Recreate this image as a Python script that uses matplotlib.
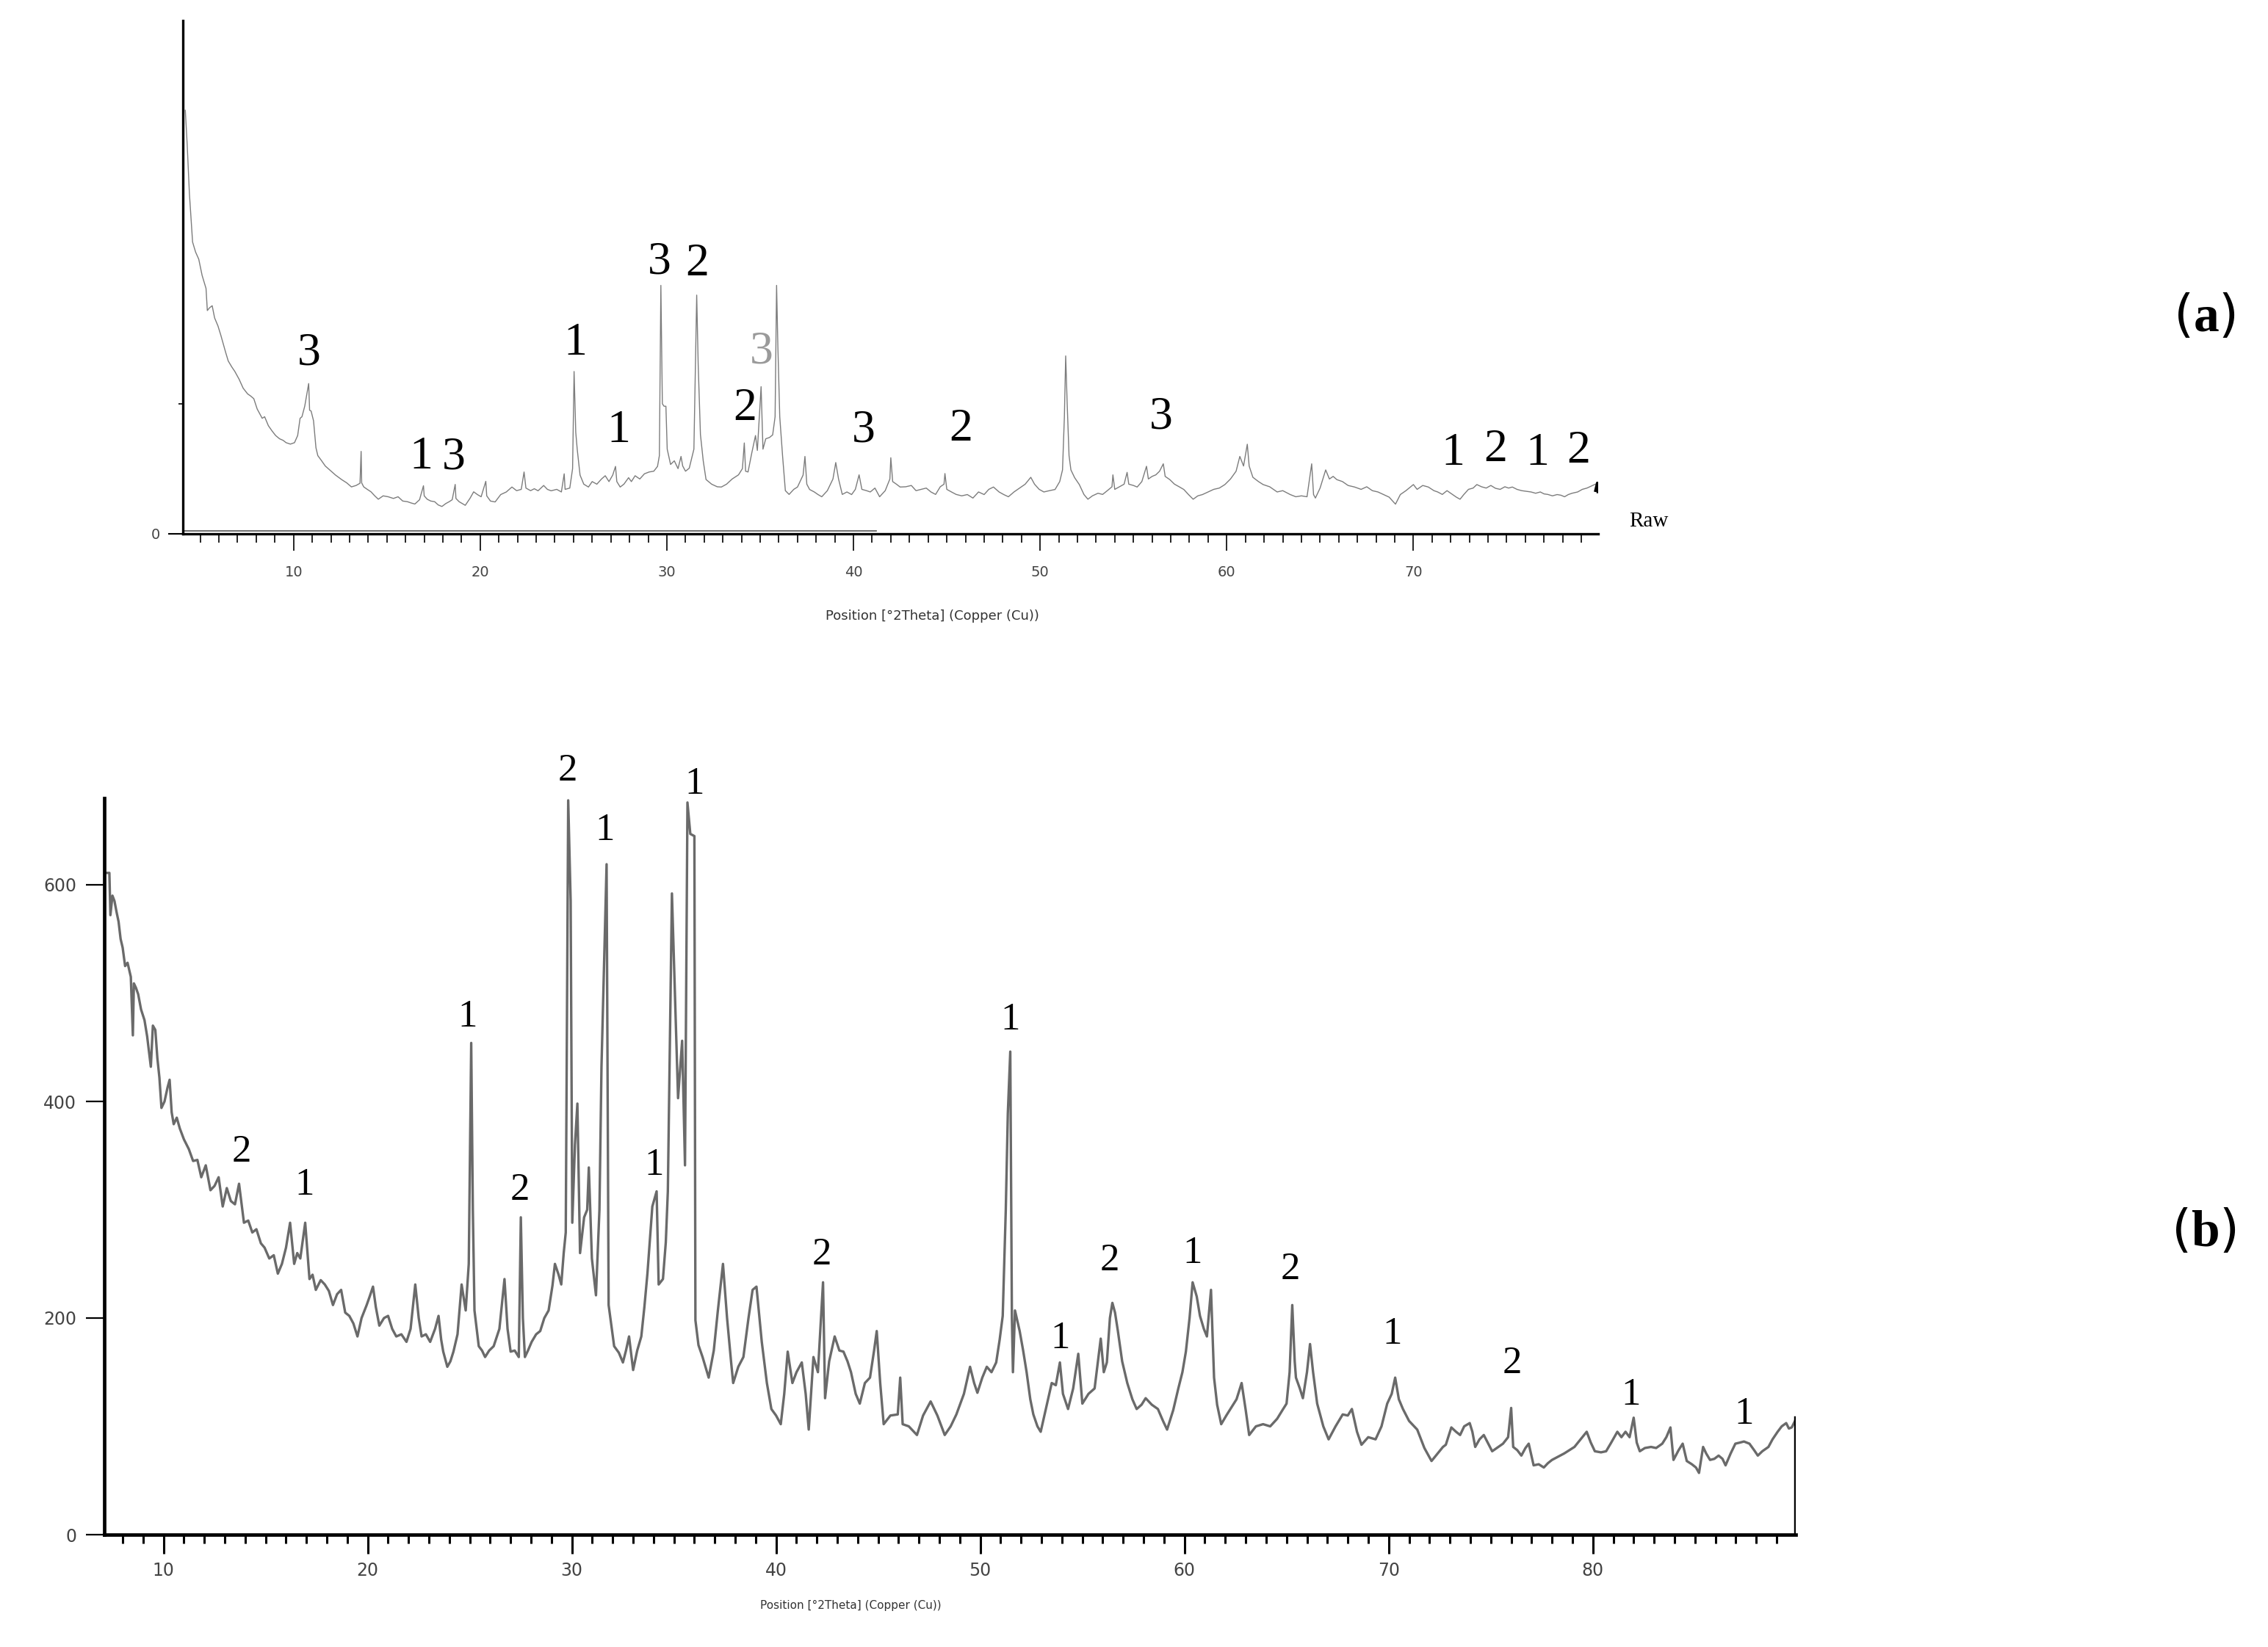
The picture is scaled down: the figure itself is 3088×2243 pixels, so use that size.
import matplotlib
matplotlib.use("Agg")
import matplotlib.pyplot as plt
from matplotlib.ticker import MultipleLocator, NullFormatter

plt.rcParams["mathtext.fontset"] = "custom"
plt.rcParams["mathtext.rm"] = "Liberation Serif"
plt.rcParams["mathtext.bf"] = "Liberation Serif:bold"

# ---- panel (a): raw pattern, 2theta vs counts ----
a_x = [4.20, 4.30, 4.42, 4.59, 4.75, 4.92, 5.10, 5.31, 5.36, 5.38, 5.50, 5.64, 5.77, 5.95, 6.10,
       6.36, 6.50, 6.69, 6.85, 7.08, 7.30, 7.54, 7.70, 7.87, 8.05, 8.32, 8.45, 8.65, 8.85, 9.04,
       9.25, 9.44, 9.60, 9.83, 10.05, 10.22, 10.35, 10.45, 10.60, 10.81, 10.86, 10.94, 11.07, 11.20,
       11.30, 11.47, 11.70, 11.93, 12.25, 12.58, 12.85, 13.10, 13.35, 13.56, 13.62, 13.65, 13.76,
       13.95, 14.15, 14.35, 14.54, 14.80, 15.07, 15.35, 15.60, 15.85, 16.10, 16.30, 16.50, 16.75,
       16.96, 17.00, 17.16, 17.35, 17.56, 17.75, 17.95, 18.15, 18.34, 18.50, 18.66, 18.70, 18.87,
       19.05, 19.20, 19.45, 19.65, 19.85, 20.05, 20.30, 20.35, 20.55, 20.80, 21.10, 21.40, 21.70,
       21.95, 22.20, 22.35, 22.45, 22.70, 22.90, 23.10, 23.40, 23.60, 23.80, 24.10, 24.35, 24.50,
       24.55, 24.80, 24.95, 25.03, 25.12, 25.20, 25.35, 25.55, 25.80, 26.00, 26.25, 26.50, 26.70,
       26.90, 27.10, 27.25, 27.32, 27.50, 27.70, 27.95, 28.10, 28.30, 28.55, 28.80, 29.05, 29.30,
       29.50, 29.60, 29.68, 29.76, 29.85, 29.95, 30.02, 30.20, 30.40, 30.60, 30.76, 30.85, 31.00,
       31.20, 31.45, 31.60, 31.68, 31.80, 31.95, 32.10, 32.40, 32.70, 32.92, 33.20, 33.50, 33.84,
       34.05, 34.15, 34.22, 34.35, 34.55, 34.75, 34.85, 35.05, 35.15, 35.30, 35.50, 35.67, 35.80,
       35.88, 35.95, 36.05, 36.20, 36.35, 36.55, 36.80, 37.00, 37.30, 37.40, 37.50, 37.65, 37.90,
       38.10, 38.30, 38.60, 38.90, 39.05, 39.20, 39.40, 39.65, 39.90, 40.10, 40.30, 40.45, 40.70,
       40.90, 41.15, 41.40, 41.70, 41.95, 42.00, 42.10, 42.30, 42.50, 42.80, 43.10, 43.35, 43.60,
       43.90, 44.15, 44.40, 44.65, 44.85, 44.90, 45.00, 45.25, 45.50, 45.80, 46.10, 46.40, 46.70,
       47.00, 47.25, 47.50, 47.80, 48.05, 48.30, 48.60, 48.90, 49.20, 49.50, 49.70, 49.95, 50.20,
       50.50, 50.80, 51.05, 51.20, 51.30, 51.37, 51.45, 51.55, 51.65, 51.85, 52.10, 52.35, 52.56,
       52.80, 53.10, 53.35, 53.60, 53.85, 53.90, 54.00, 54.25, 54.50, 54.66, 54.75, 55.00, 55.20,
       55.45, 55.70, 55.80, 56.00, 56.20, 56.40, 56.60, 56.70, 56.95, 57.20, 57.45, 57.70, 57.95,
       58.20, 58.45, 58.70, 59.00, 59.30, 59.60, 59.90, 60.20, 60.50, 60.70, 60.90, 61.10, 61.20,
       61.40, 61.70, 61.95, 62.30, 62.70, 63.00, 63.40, 63.70, 64.00, 64.30, 64.55, 64.65, 64.75,
       65.00, 65.30, 65.50, 65.70, 65.90, 66.20, 66.50, 66.85, 67.20, 67.50, 67.80, 68.10, 68.40,
       68.70, 69.04, 69.30, 69.60, 70.00, 70.20, 70.50, 70.80, 71.10, 71.30, 71.55, 71.80, 72.10,
       72.30, 72.50, 72.70, 72.95, 73.20, 73.40, 73.65, 73.90, 74.15, 74.40, 74.65, 74.90, 75.10,
       75.30, 75.55, 75.80, 76.05, 76.30, 76.55, 76.80, 77.00, 77.20, 77.45, 77.70, 77.90, 78.10,
       78.30, 78.50, 78.80, 79.05, 79.30, 79.55, 79.75]
a_y = [3263, 3000, 2620, 2247, 2170, 2115, 1990, 1889, 1760, 1719, 1740, 1756, 1662, 1600, 1530,
       1397, 1330, 1284, 1250, 1190, 1120, 1076, 1060, 1039, 960, 888, 900, 831, 790, 755,
       730, 718, 700, 689, 700, 755, 888, 900, 982, 1156, 950, 944, 869, 661,
       600, 567, 520, 491, 450, 415, 390, 359, 370, 387, 633, 390, 359,
       340, 321, 290, 264, 290, 283, 270, 283, 250, 245, 235, 227, 260,
       368, 290, 264, 250, 245, 220, 208, 230, 245, 260, 378, 270, 245,
       230, 217, 270, 321, 300, 283, 402, 290, 250, 243, 300, 320, 358,
       330, 340, 474, 350, 330, 345, 329, 370, 340, 329, 340, 320, 460,
       340, 350, 500, 1249, 780, 647, 450, 380, 358, 400, 380, 420, 445,
       400, 450, 517, 400, 358, 380, 430, 400, 445, 420, 460, 474, 480,
       517, 600, 1913, 1000, 981, 981, 650, 532, 560, 500, 594, 520, 480,
       503, 650, 1838, 1300, 763, 560, 416, 380, 360, 358, 380, 420, 452,
       500, 698, 480, 474, 620, 755, 640, 1132, 650, 730, 740, 760, 900,
       1913, 1435, 900, 600, 330, 301, 340, 358, 450, 594, 380, 339, 320,
       300, 283, 330, 420, 547, 420, 301, 320, 300, 340, 452, 340, 330,
       320, 350, 283, 330, 420, 584, 400, 380, 358, 360, 370, 330, 339,
       350, 320, 301, 360, 380, 462, 340, 320, 301, 290, 300, 273, 320,
       300, 340, 358, 320, 300, 283, 320, 350, 380, 433, 380, 340, 320,
       330, 339, 400, 490, 900, 1369, 1000, 600, 490, 430, 377, 300, 264,
       290, 310, 301, 330, 360, 452, 340, 360, 380, 471, 380, 370, 358,
       400, 518, 420, 440, 452, 480, 537, 440, 415, 380, 360, 339, 300,
       264, 290, 300, 320, 340, 350, 377, 420, 480, 594, 520, 688, 520,
       433, 400, 377, 360, 320, 330, 300, 283, 290, 283, 537, 300, 273,
       350, 490, 420, 440, 415, 400, 370, 358, 340, 360, 330, 320, 300,
       280, 226, 300, 330, 377, 340, 370, 358, 330, 320, 301, 330, 300,
       280, 264, 300, 340, 350, 377, 360, 350, 370, 348, 340, 360, 350,
       358, 340, 330, 325, 320, 310, 320, 305, 301, 290, 300, 295, 283,
       300, 310, 320, 340, 350, 367, 380]
a_end_x = [79.75, 79.85, 79.88]
a_end_y = [330, 390, 320]
a_base_x = [4.07, 41.2]
a_base_y = [18, 18]

a_lab_x = [10.81, 16.85, 18.6, 25.1, 27.42, 29.6, 31.64, 34.17, 35.06, 40.53, 45.75, 56.48,
           72.12, 74.38, 76.64, 78.84]
a_lab_y = [1388, 585, 585, 1463, 792, 2087, 2077, 962, 1397, 792, 802, 896, 613, 641, 613, 632]
a_lab_t = ["3", "1", "3", "1", "1", "3", "2", "2", "3", "3", "2", "3", "1", "2", "1", "2"]

# ---- panel (b) ----
b_x = [7.15, 7.27, 7.35, 7.40, 7.50, 7.60, 7.70, 7.80, 7.90, 8.00, 8.12, 8.24, 8.40, 8.50, 8.55,
       8.65, 8.76, 8.90, 9.07, 9.20, 9.38, 9.48, 9.60, 9.70, 9.80, 9.90, 10.05, 10.20, 10.30, 10.40,
       10.50, 10.65, 10.80, 11.00, 11.24, 11.45, 11.66, 11.85, 12.07, 12.30, 12.50, 12.70, 12.90,
       13.10, 13.30, 13.50, 13.70, 13.94, 14.15, 14.35, 14.55, 14.77, 14.95, 15.18, 15.40, 15.60,
       15.80, 16.00, 16.20, 16.40, 16.55, 16.70, 16.94, 17.15, 17.30, 17.46, 17.70, 17.90, 18.10,
       18.30, 18.50, 18.70, 18.90, 19.10, 19.30, 19.50, 19.70, 19.95, 20.10, 20.26, 20.40, 20.57,
       20.80, 21.00, 21.20, 21.40, 21.65, 21.90, 22.10, 22.33, 22.50, 22.64, 22.85, 23.06, 23.30,
       23.47, 23.60, 23.70, 23.90, 24.05, 24.20, 24.40, 24.60, 24.80, 24.95, 25.07, 25.15, 25.23,
       25.44, 25.60, 25.75, 25.95, 26.17, 26.45, 26.70, 26.85, 27.00, 27.20, 27.40, 27.50, 27.60,
       27.70, 27.85, 28.03, 28.25, 28.45, 28.65, 28.86, 29.05, 29.17, 29.35, 29.48, 29.60, 29.70,
       29.82, 29.94, 30.02, 30.15, 30.27, 30.40, 30.60, 30.75, 30.83, 30.98, 31.18, 31.35, 31.45,
       31.70, 31.80, 32.07, 32.30, 32.50, 32.65, 32.80, 33.00, 33.20, 33.40, 33.55, 33.70, 33.94,
       34.15, 34.25, 34.46, 34.60, 34.70, 34.90, 35.08, 35.20, 35.40, 35.54, 35.66, 35.80, 36.00,
       36.05, 36.20, 36.40, 36.70, 36.95, 37.15, 37.40, 37.60, 37.80, 37.90, 38.15, 38.40, 38.65,
       38.85, 39.04, 39.30, 39.55, 39.77, 40.00, 40.23, 40.40, 40.57, 40.80, 41.00, 41.26, 41.45,
       41.60, 41.83, 42.05, 42.30, 42.40, 42.60, 42.87, 43.10, 43.30, 43.50, 43.67, 43.90, 44.10,
       44.35, 44.60, 44.80, 44.93, 45.10, 45.27, 45.60, 45.96, 46.08, 46.20, 46.50, 46.90, 47.20,
       47.57, 47.90, 48.26, 48.55, 48.83, 49.20, 49.50, 49.70, 49.86, 50.10, 50.32, 50.55, 50.78,
       50.95, 51.10, 51.25, 51.35, 51.47, 51.55, 51.60, 51.70, 51.93, 52.10, 52.27, 52.45, 52.60,
       52.80, 52.96, 53.20, 53.50, 53.70, 53.90, 54.05, 54.30, 54.55, 54.80, 55.00, 55.30, 55.60,
       55.90, 56.05, 56.20, 56.35, 56.47, 56.60, 56.74, 56.95, 57.20, 57.45, 57.66, 57.90, 58.10,
       58.40, 58.70, 58.95, 59.15, 59.45, 59.70, 59.90, 60.07, 60.25, 60.40, 60.60, 60.76, 60.95,
       61.10, 61.30, 61.45, 61.60, 61.80, 62.05, 62.25, 62.55, 62.80, 63.00, 63.17, 63.50, 63.85,
       64.20, 64.54, 64.80, 65.00, 65.15, 65.28, 65.40, 65.46, 65.65, 65.80, 66.00, 66.15, 66.30,
       66.50, 66.80, 67.06, 67.40, 67.75, 68.00, 68.20, 68.45, 68.67, 69.00, 69.36, 69.65, 69.93,
       70.15, 70.32, 70.50, 70.70, 71.00, 71.40, 71.75, 72.10, 72.40, 72.66, 72.80, 73.07, 73.30,
       73.50, 73.70, 73.97, 74.10, 74.24, 74.45, 74.66, 74.85, 75.07, 75.30, 75.60, 75.85, 76.00,
       76.10, 76.30, 76.50, 76.70, 76.86, 77.10, 77.35, 77.60, 77.80, 78.00, 78.30, 78.60, 78.85,
       79.10, 79.40, 79.70, 79.90, 80.10, 80.40, 80.65, 80.90, 81.20, 81.40, 81.60, 81.80, 82.00,
       82.15, 82.30, 82.55, 82.85, 83.10, 83.40, 83.60, 83.80, 83.95, 84.20, 84.40, 84.60, 84.85,
       85.05, 85.20, 85.40, 85.55, 85.74, 85.95, 86.16, 86.35, 86.50, 86.75, 86.98, 87.20, 87.40,
       87.67, 87.90, 88.08, 88.30, 88.60, 88.80, 89.05, 89.25, 89.47, 89.60, 89.74, 89.90]
b_y = [611, 611, 611, 572, 590, 585, 575, 566, 550, 542, 525, 528, 515, 461, 509,
       505, 499, 485, 475, 460, 432, 470, 466, 440, 422, 394, 400, 413, 420, 390,
       379, 385, 375, 365, 356, 345, 346, 330, 341, 318, 322, 330, 303,
       320, 308, 305, 324, 288, 290, 279, 282, 269, 265, 255, 258, 241,
       250, 265, 288, 250, 260, 255, 288, 236, 240, 226, 235, 231, 225,
       212, 222, 226, 205, 202, 195, 183, 200, 212, 220, 229, 210, 193,
       200, 202, 190, 183, 185, 178, 190, 231, 200, 183, 185, 178, 190,
       202, 180, 169, 155, 160, 169, 185, 231, 207, 250, 454, 300, 207,
       174, 170, 164, 170, 174, 190, 236, 190, 169, 170, 164, 293, 200,
       164, 170, 178, 185, 188, 200, 207, 230, 250, 240, 231, 260, 279,
       678, 585, 288, 360, 398, 260, 293, 300, 339, 255, 221, 300, 432,
       619, 212, 174, 168, 159, 170, 183, 152, 170, 183, 210, 241, 303,
       317, 231, 236, 270, 317, 592, 480, 403, 456, 341, 676, 647, 645,
       198, 175, 164, 145, 170, 207, 250, 200, 159, 140, 155, 164, 200,
       226, 229, 178, 140, 116, 110, 102, 130, 169, 140, 150, 159, 130,
       97, 164, 150, 233, 126, 160, 183, 170, 169, 160, 150, 130, 121,
       140, 145, 170, 188, 140, 102, 110, 111, 145, 102, 100, 92, 110,
       123, 110, 92, 100, 111, 130, 155, 140, 131, 145, 155, 150, 159,
       180, 202, 300, 389, 446, 200, 150, 207, 188, 170, 150, 125, 111,
       100, 95, 115, 140, 138, 159, 130, 116, 135, 167, 121, 130, 135,
       181, 150, 159, 200, 214, 205, 188, 160, 140, 125, 116, 120, 126,
       120, 116, 105, 97, 115, 135, 150, 169, 200, 233, 220, 202, 190,
       183, 226, 145, 120, 102, 110, 116, 125, 140, 115, 92, 100, 102,
       100, 107, 115, 121, 150, 212, 160, 145, 135, 126, 150, 176, 150,
       121, 100, 88, 100, 111, 110, 116, 95, 83, 90, 88, 100, 121,
       130, 145, 125, 116, 105, 97, 80, 68, 75, 81, 83, 99, 95,
       92, 100, 103, 95, 81, 88, 92, 85, 77, 80, 84, 90, 117,
       81, 78, 73, 80, 84, 64, 65, 62, 66, 69, 72, 75, 78,
       81, 88, 95, 85, 77, 76, 77, 85, 95, 90, 95, 90, 108,
       85, 77, 80, 81, 80, 84, 90, 99, 69, 78, 84, 68, 65,
       62, 57, 81, 75, 69, 70, 73, 70, 64, 75, 84, 85, 86,
       84, 78, 73, 77, 81, 88, 95, 100, 103, 98, 99, 105]
b_end_x = [89.93, 89.93]
b_end_y = [0, 108]

b_lab_x = [29.8, 36.0, 31.6, 24.9, 13.83, 16.9, 27.47, 34.04, 42.25, 51.47, 53.92, 56.35, 60.4,
           65.18, 70.16, 76.06, 81.86, 87.42]
b_lab_y = [705, 693, 650, 478, 353, 323, 318, 341, 258, 475, 181, 253, 260, 245, 185, 158, 129, 111]
b_lab_t = ["2", "1", "1", "1", "2", "1", "2", "1", "2", "1", "1", "2", "1", "2", "1", "2", "1", "1"]

W, H = 3088, 2243
fig = plt.figure(figsize=(W / 100, H / 100), dpi=100)
fig.patch.set_facecolor("white")

# panel a
ax = fig.add_axes([249 / W, 1516.5 / H, (2176 - 249) / W, (726.5 - 27.6) / H])
ax.plot(a_x, a_y, color="#7c7c7c", lw=1.0)
ax.plot(a_base_x, a_base_y, color="#555555", lw=1.2)
ax.plot(a_end_x, a_end_y, color="black", lw=2.5)
ax.set_xlim(4.07, 79.9)
ax.set_ylim(0, 3957)
for s in ["top", "right"]:
    ax.spines[s].set_visible(False)
for s in ["left", "bottom"]:
    ax.spines[s].set_linewidth(2.4)
ax.xaxis.set_major_locator(MultipleLocator(10))
ax.xaxis.set_minor_locator(MultipleLocator(1))
ax.set_yticks([0])
ax.set_yticks([1000], minor=True)
ax.yaxis.set_minor_formatter(NullFormatter())
ax.tick_params(axis="x", which="major", direction="out", length=16.5, width=1.2,
               pad=15, labelsize=14, labelcolor="#444444")
ax.tick_params(axis="x", which="minor", direction="out", length=8.6, width=1.2)
ax.tick_params(axis="y", which="major", direction="out", length=14.5, width=1.5,
               pad=8, labelsize=14, labelcolor="#444444")
ax.tick_params(axis="y", which="minor", direction="out", length=4.5, width=1.2)
fig.text(1269 / W, 1 - 839 / H, "Position [°2Theta] (Copper (Cu))",
         ha="center", va="center", fontsize=13, color="#333333")
for x, y, t in zip(a_lab_x, a_lab_y, a_lab_t):
    c = "#9a9a9a" if (t == "3" and abs(x - 35.06) < 0.1) else "black"
    ax.text(x, y, t, ha="center", va="center", fontsize=46, family="Liberation Serif", color=c)
ax.text(2245 / W, 1 - 710 / H, "Raw", transform=fig.transFigure, ha="center", va="center",
        fontsize=21, family="Liberation Serif")

# panel b
bx = fig.add_axes([141.7 / W, 153 / H, (2444.8 - 141.7) / W, (2090 - 1087) / H])
bx.plot(b_x, b_y, color="#6a6a6a", lw=2.4)
bx.plot(b_end_x, b_end_y, color="black", lw=3.2)
bx.set_xlim(7.09, 89.93)
bx.set_ylim(0, 680)
for s in ["top", "right"]:
    bx.spines[s].set_visible(False)
for s in ["left", "bottom"]:
    bx.spines[s].set_linewidth(3.4)
bx.xaxis.set_major_locator(MultipleLocator(10))
bx.xaxis.set_minor_locator(MultipleLocator(1))
bx.set_yticks([0, 200, 400, 600])
bx.tick_params(axis="x", which="major", direction="out", length=19, width=2.2,
               pad=8, labelsize=17, labelcolor="#444444")
bx.tick_params(axis="x", which="minor", direction="out", length=8.6, width=2.2)
bx.tick_params(axis="y", which="major", direction="out", length=18, width=1.6,
               pad=9, labelsize=17, labelcolor="#444444")
bx.text(1158 / W, 1 - 2186 / H, "Position [°2Theta] (Copper (Cu))", transform=fig.transFigure,
        ha="center", va="center", fontsize=11, color="#333333")
for x, y, t in zip(b_lab_x, b_lab_y, b_lab_t):
    bx.text(x, y, t, ha="center", va="center", fontsize=38, family="Liberation Serif",
            color="black")

fig.text(3001 / W, 1 - 432 / H, r"($\mathbf{a}$)", ha="center", va="center", fontsize=50)
fig.text(3000 / W, 1 - 1677 / H, r"($\mathbf{b}$)", ha="center", va="center", fontsize=50)

fig.savefig("out.png", dpi=100, facecolor="white")
